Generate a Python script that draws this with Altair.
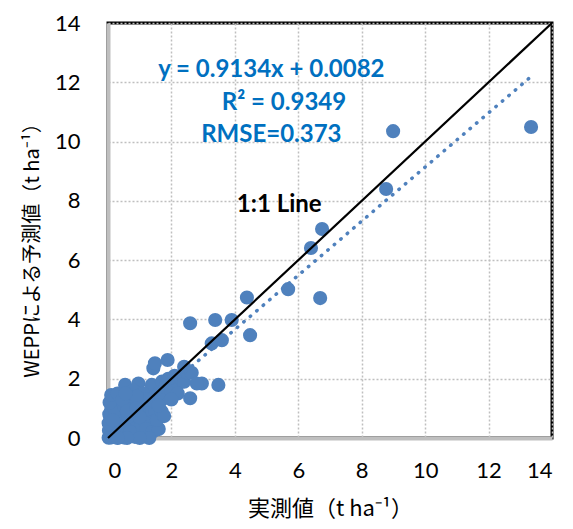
import altair as alt
import pandas as pd

# Observed (x) and WEPP-predicted (y) soil loss, t ha-1
obs_x = [0.02, 0.05, 0.08, 0.10, 0.12, 0.15, 0.18, 0.20, 0.22, 0.25, 0.28, 0.30, 0.32, 0.35, 0.38,
         0.40, 0.42, 0.45, 0.48, 0.50, 0.03, 0.06, 0.09, 0.04, 0.10, 0.15, 0.20, 0.12, 0.25, 0.30,
         0.02, 0.07, 0.20, 0.35, 0.40, 0.45,
         0.55, 0.60, 0.65, 0.70, 0.75, 0.80, 0.85, 0.90, 0.95, 1.00, 1.05, 1.10, 1.15, 1.20, 1.25,
         1.30, 1.35, 1.40, 0.60, 0.70, 0.54, 0.96, 1.38, 0.27, 0.22, 0.63, 0.80, 1.10, 1.20, 0.90, 0.50,
         0.05, 0.10, 0.30, 0.45, 0.60, 0.70, 0.90, 1.00, 1.20, 1.40, 1.60, 1.30, 1.00, 0.60, 0.30,
         0.15, 0.55, 1.50, 1.70,
         1.54, 1.69, 1.77, 1.50, 1.60, 1.70, 1.80, 1.90, 2.00, 2.10, 2.22, 2.30, 2.40, 2.50, 1.43,
         1.48, 1.88, 2.40, 2.64, 2.59, 2.96, 2.80, 2.20, 2.00, 1.60, 2.59, 3.48,
         3.27, 3.59, 3.38, 3.90, 4.38, 4.48, 5.68, 6.69, 6.40, 6.75, 8.77, 8.99, 13.34]
pred_y = [0.01, 0.03, 0.10, 0.02, 0.20, 0.08, 0.30, 0.05, 0.15, 0.40, 0.10, 0.25, 0.02, 0.50, 0.20,
          0.08, 0.35, 0.60, 0.15, 0.02, 0.25, 0.45, 0.60, 0.80, 0.95, 1.10, 0.70, 1.30, 0.85, 1.00,
          0.50, 0.70, 1.20, 1.15, 0.75, 0.90,
          0.30, 0.50, 0.10, 0.80, 0.40, 1.00, 0.04, 0.60, 0.20, 1.20, 0.38, 0.90, 0.05, 0.70, 1.10,
          0.50, 1.40, 0.90, 1.30, 1.50, 1.79, 1.84, 1.79, 1.34, 0.94, 0.72, 1.60, 1.50, 1.30, 1.40, 1.10,
          1.20, 1.45, 1.50, 1.30, 0.90, 0.20, 1.00, 0.70, 0.30, 0.20, 0.30, 0.00, 0.00, 0.00, 0.00,
          0.60, 1.50, 0.90, 1.30,
          0.61, 0.89, 0.74, 1.20, 1.50, 1.90, 1.73, 2.00, 1.60, 2.10, 1.84, 2.00, 1.90, 2.20, 2.35,
          2.52, 2.63, 2.40, 2.20, 1.34, 1.84, 1.84, 1.50, 1.30, 1.10, 3.87, 1.79,
          3.19, 3.30, 3.98, 3.98, 4.74, 3.47, 5.02, 4.72, 6.41, 7.05, 8.40, 10.35, 10.49]

# Regression line (shown equation) over the observed range
slope = 0.9134
intercept = 0.0082
trend_x = [0.0, 13.34]
trend_y = [slope * v + intercept for v in trend_x]

# 1:1 line
one_x = [0, 14]
one_y = [0, 14]

ticks = [0, 2, 4, 6, 8, 10, 12, 14]

stat_text = ["y = 0.9134x + 0.0082", "R\u00b2 = 0.9349", "RMSE=0.373"]
stat_x = [5.15, 5.55, 5.15]
stat_y = [12.4, 11.3, 10.22]

line_text = ["1:1 Line"]
line_x = [5.4]
line_y = [7.87]

BLUE = "#4F81BD"
TXT_BLUE = "#0070C0"
GRID = "#BFBFBF"
NUM_FONT = "Lato"
JP_FONT = "Noto Sans CJK JP"

xscale = alt.Scale(domain=[0, 14], nice=False, zero=False)
yscale = alt.Scale(domain=[0, 14], nice=False, zero=False)

xaxis = alt.Axis(values=ticks, title="実測値（t ha⁻¹）", grid=True, gridDash=[2, 2],
                 gridColor=GRID, gridWidth=1.5, ticks=False, labelPadding=22,
                 labelFont=NUM_FONT, labelFontSize=22, labelColor="#000000",
                 titleFont=JP_FONT, titleFontSize=22, titleFontWeight="normal",
                 titleColor="#000000", titlePadding=17,
                 domainColor=GRID, domainWidth=4)
yaxis = alt.Axis(values=ticks, title="WEPPによる予測値（t ha⁻¹）", grid=True, gridDash=[2, 2],
                 gridColor=GRID, gridWidth=1.5, ticks=False, labelPadding=28,
                 labelFont=NUM_FONT, labelFontSize=22, labelColor="#000000",
                 titleFont=JP_FONT, titleFontSize=20, titleFontWeight="normal",
                 titleColor="#000000", titlePadding=12, titleY=222,
                 domainColor=GRID, domainWidth=4)

pts = alt.Chart(pd.DataFrame({"obs": obs_x, "pred": pred_y})).mark_circle(
    size=200, color=BLUE, opacity=1
).encode(
    x=alt.X("obs:Q", scale=xscale, axis=xaxis),
    y=alt.Y("pred:Q", scale=yscale, axis=yaxis),
)

trend = alt.Chart(pd.DataFrame({"x": trend_x, "y": trend_y})).mark_line(
    color=BLUE, strokeWidth=3.5, strokeDash=[0.5, 8], strokeCap="round"
).encode(x=alt.X("x:Q", scale=xscale), y=alt.Y("y:Q", scale=yscale))

one = alt.Chart(pd.DataFrame({"x": one_x, "y": one_y})).mark_line(
    color="#000000", strokeWidth=2.2
).encode(x=alt.X("x:Q", scale=xscale), y=alt.Y("y:Q", scale=yscale))

stats = alt.Chart(pd.DataFrame({"t": stat_text, "x": stat_x, "y": stat_y})).mark_text(
    font=NUM_FONT, fontSize=24, fontWeight="bold", color=TXT_BLUE, align="center", baseline="middle"
).encode(x=alt.X("x:Q", scale=xscale), y=alt.Y("y:Q", scale=yscale), text="t:N")

lbl = alt.Chart(pd.DataFrame({"t": line_text, "x": line_x, "y": line_y})).mark_text(
    font=NUM_FONT, fontSize=24, fontWeight="bold", color="#000000", align="center", baseline="middle"
).encode(x=alt.X("x:Q", scale=xscale), y=alt.Y("y:Q", scale=yscale), text="t:N")

chart = alt.layer(pts, trend, one, stats, lbl).properties(
    width=444, height=415,
    autosize=alt.AutoSizeParams(type="none"),
    padding={"left": 100, "top": 15, "right": 12, "bottom": 90},
).configure_view(stroke="#000000", strokeWidth=3)

chart.save("out.html", embed_options={"renderer": "svg", "actions": False})
